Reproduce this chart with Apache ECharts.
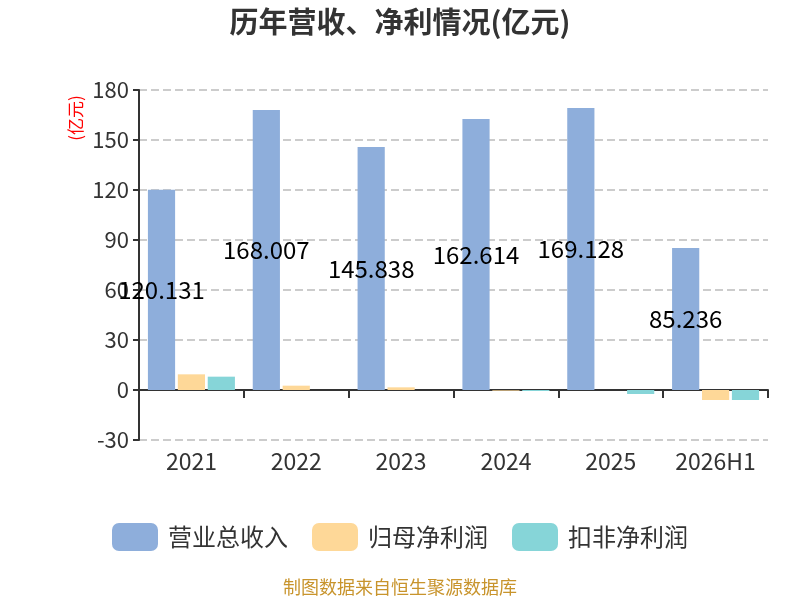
<!DOCTYPE html>
<html>
<head>
<meta charset="utf-8">
<script src="https://cdn.jsdelivr.net/npm/echarts@6/dist/echarts.min.js"></script>
<style>
  html, body { margin: 0; padding: 0; background: #fff; }
  #chart { width: 800px; height: 600px; }
</style>
</head>
<body>
<div id="chart"></div>
<script>
const years = ["2021", "2022", "2023", "2024", "2025", "2026H1"];
const revenue = [120.131, 168.007, 145.838, 162.614, 169.128, 85.236];
const netProfit = [9.4, 2.6, 1.6, -0.4, 0, -6.0];
const netProfitDeducted = [8.0, 0, 0, -0.6, -2.4, -6.0];
const seriesNames = ["营业总收入", "归母净利润", "扣非净利润"];
const colors = ["#8eaedb", "#fed898", "#86d5d8"];

const font = "'Noto Sans CJK SC', 'Noto Sans', sans-serif";

const chart = echarts.init(document.getElementById("chart"));
chart.setOption({
  animation: false,
  textStyle: { fontFamily: font },
  color: colors,
  title: {
    text: "历年营收、净利情况(亿元)",
    left: "center",
    top: 2,
    textStyle: { fontSize: 29, fontWeight: "bold", color: "#333", fontFamily: font },
  },
  graphic: [
    {
      type: "text",
      x: 76,
      y: 118,
      rotation: Math.PI / 2,
      style: {
        text: "(亿元)",
        fontSize: 17,
        fill: "red",
        fontFamily: font,
        align: "center",
        verticalAlign: "middle",
      },
    },
    {
      type: "text",
      left: "center",
      top: 578,
      style: { text: "制图数据来自恒生聚源数据库", fontSize: 18, fill: "#c8942c", fontFamily: font },
    },
  ],
  legend: {
    top: 518,
    left: "center",
    itemWidth: 46,
    itemHeight: 28,
    itemGap: 24,
    textStyle: { fontSize: 24, color: "#333", fontFamily: font, padding: [0, 0, 0, 5] },
    data: seriesNames,
  },
  grid: { left: 139, right: 32, top: 90, bottom: 160 },
  xAxis: {
    type: "category",
    data: years,
    axisLine: { onZero: true, lineStyle: { color: "#333", width: 2 } },
    axisTick: { show: true, length: 8, lineStyle: { width: 2 } },
    axisLabel: { fontSize: 23, color: "#333", margin: 10 },
  },
  yAxis: {
    type: "value",
    min: -30,
    max: 180,
    interval: 30,
    axisLine: { show: true, lineStyle: { color: "#333", width: 2 } },
    axisTick: { show: true, length: 6, lineStyle: { width: 2 } },
    axisLabel: { fontSize: 22, color: "#333", margin: 10 },
    splitLine: { show: true, lineStyle: { type: "dashed", color: "#ccc", width: 2 } },
  },
  series: [
    {
      name: seriesNames[0],
      type: "bar",
      data: revenue,
      barGap: "10%",
      barCategoryGap: "17%",
      label: {
        show: true,
        position: "inside",
        color: "#000",
        fontSize: 24,
        formatter: (p) => p.value.toFixed(3),
      },
    },
    { name: seriesNames[1], type: "bar", data: netProfit },
    { name: seriesNames[2], type: "bar", data: netProfitDeducted },
  ],
});
</script>
</body>
</html>
